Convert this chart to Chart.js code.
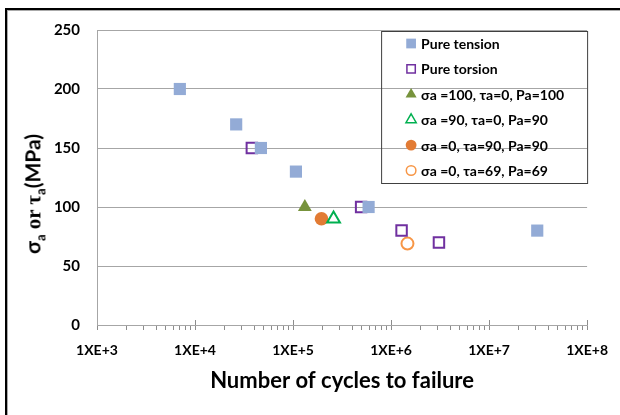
<!DOCTYPE html>
<html>
<head>
<meta charset="utf-8">
<script src="https://cdn.jsdelivr.net/npm/chart.js@4.4.0/dist/chart.umd.min.js"></script>
<style>
body { margin: 0; background: #fff; }
#wrap { position: relative; width: 620px; height: 415px; overflow: hidden; }
#frame { position: absolute; left: 5px; top: 8px; width: 640px; height: 440px; border-top: 2px solid #000; border-left: 2px solid #000; box-shadow: inset 1px 1px 0 #aaa; }
#chart { position: absolute; left: 0; top: 0; }
#ytitle { position: absolute; left: 34px; top: 194px; transform: translate(-50%, -50%) rotate(-90deg); white-space: nowrap; font: bold 21px Lato, "Open Sans", sans-serif; color: #000; }
#ytitle .serif { font-family: "Liberation Serif", serif; font-weight: bold; }
#ytitle sub { font-size: 13px; }
</style>
</head>
<body>
<div id="wrap">
  <div id="frame"></div>
  <canvas id="chart" width="620" height="415"></canvas>
  <div id="ytitle">σ<sub>a</sub> <span class="serif">or τ</span><sub>a</sub>(MPa)</div>
</div>
<script>
// pure tension
const tensionCycles = [7000, 26300, 47000, 107000, 590000, 31000000];
const tensionStress = [200, 170, 150, 130, 100, 80];
// pure torsion
const torsionCycles = [38000, 495000, 1280000, 3080000];
const torsionStress = [150, 100, 80, 70];
// combined loading
const comb1Cycles = [132000];
const comb1Stress = [100];
const comb2Cycles = [259000];
const comb2Stress = [90];
const comb3Cycles = [195000];
const comb3Stress = [90];
const comb4Cycles = [1470000];
const comb4Stress = [69];

const xTickLabels = ['1XE+3', '1XE+4', '1XE+5', '1XE+6', '1XE+7', '1XE+8'];
const yTicks = [0, 50, 100, 150, 200, 250];

const legendLabels = ['Pure tension', 'Pure torsion', 'σa =100, τa=0, Pa=100', 'σa =90, τa=0, Pa=90', 'σa =0, τa=90, Pa=90', 'σa =0, τa=69, Pa=69'];

const toPoints = (xs, ys) => xs.map((x, i) => ({x: x, y: ys[i]}));

// minor ticks 1..9 in every decade
const xTickValues = [];
for (let e = 3; e < 8; e++) {
    for (let m = 1; m < 10; m++) xTickValues.push(m * Math.pow(10, e));
}
xTickValues.push(1e8);

const isDecade = v => {
    const e = Math.round(Math.log10(v));
    return Math.abs(v - Math.pow(10, e)) < 1e-6;
};

const font = 'Lato, "Open Sans", sans-serif';

// legend box drawn inside the plot, top right; decade ticks also poke up into the plot
const boxLegend = {
    id: 'boxLegend',
    afterDraw(chart) {
        const ctx = chart.ctx;
        const area = chart.chartArea;
        const xs = chart.scales.x;
        ctx.save();
        ctx.strokeStyle = '#8C8C8C';
        ctx.lineWidth = 1;
        xs.ticks.forEach(t => {
            if (!isDecade(t.value) || t.value === 1e3) return;
            const px = Math.round(xs.getPixelForValue(t.value)) + 0.5;
            ctx.beginPath();
            ctx.moveTo(px, area.bottom - 5);
            ctx.lineTo(px, area.bottom);
            ctx.stroke();
        });

        const w = 206, h = 152;
        const x0 = area.right - w, y0 = area.top + 1;
        ctx.strokeStyle = '#404040';
        ctx.strokeRect(x0 + 0.5, y0 + 0.5, w, h);
        ctx.font = 'bold 14px ' + font;
        ctx.textBaseline = 'middle';
        chart.data.datasets.forEach((ds, i) => {
            const y = y0 + 12.5 + i * 25.4;
            const mx = x0 + 30;
            ctx.fillStyle = ds.backgroundColor;
            ctx.strokeStyle = ds.borderColor;
            ctx.lineWidth = ds.borderWidth ? 1.5 : 0;
            Chart.helpers.drawPoint(ctx, {
                pointStyle: ds.pointStyle,
                radius: ds.pointRadius * 0.8,
                rotation: 0,
                borderWidth: ds.borderWidth ? 1.5 : 0
            }, mx, y);
            ctx.fillStyle = '#000';
            ctx.fillText(legendLabels[i], x0 + 40, y + 1);
        });
        ctx.restore();
    }
};

new Chart(document.getElementById('chart'), {
    type: 'scatter',
    data: {
        datasets: [{
            label: legendLabels[0],
            data: toPoints(tensionCycles, tensionStress),
            pointStyle: 'rect',
            pointRadius: 8.6,
            backgroundColor: '#93ABD6',
            borderColor: '#93ABD6',
            borderWidth: 0
        }, {
            label: legendLabels[1],
            data: toPoints(torsionCycles, torsionStress),
            pointStyle: 'rect',
            pointRadius: 7.4,
            backgroundColor: 'rgba(255,255,255,0)',
            borderColor: '#7030A0',
            borderWidth: 2
        }, {
            label: legendLabels[2],
            data: toPoints(comb1Cycles, comb1Stress),
            pointStyle: 'triangle',
            pointRadius: 8,
            backgroundColor: '#77933C',
            borderColor: '#77933C',
            borderWidth: 0
        }, {
            label: legendLabels[3],
            data: toPoints(comb2Cycles, comb2Stress),
            pointStyle: 'triangle',
            pointRadius: 7.4,
            backgroundColor: 'rgba(255,255,255,0)',
            borderColor: '#00B050',
            borderWidth: 2
        }, {
            label: legendLabels[4],
            data: toPoints(comb3Cycles, comb3Stress),
            pointStyle: 'circle',
            pointRadius: 6.8,
            backgroundColor: '#E27B34',
            borderColor: '#E27B34',
            borderWidth: 0
        }, {
            label: legendLabels[5],
            data: toPoints(comb4Cycles, comb4Stress),
            pointStyle: 'circle',
            pointRadius: 6,
            backgroundColor: 'rgba(255,255,255,0)',
            borderColor: '#F79646',
            borderWidth: 2
        }]
    },
    options: {
        responsive: false,
        animation: false,
        layout: {
            padding: {left: 0, right: 31, top: 30, bottom: 0}
        },
        plugins: {
            legend: {display: false},
            tooltip: {enabled: false}
        },
        scales: {
            x: {
                type: 'logarithmic',
                min: 1e3,
                max: 1e8,
                afterBuildTicks: axis => {
                    axis.ticks = xTickValues.map(v => ({value: v}));
                },
                afterFit: axis => {
                    axis.height = 90;
                },
                ticks: {
                    autoSkip: false,
                    maxRotation: 0,
                    padding: 12,
                    color: '#000',
                    font: {family: font, weight: 'bold', size: 14},
                    callback: value => isDecade(value) ? xTickLabels[Math.round(Math.log10(value)) - 3] : ''
                },
                grid: {
                    drawOnChartArea: false,
                    tickLength: 5,
                    tickWidth: 1,
                    tickColor: '#8C8C8C',
                    color: '#A6A6A6'
                },
                border: {color: '#A6A6A6'},
                title: {
                    display: true,
                    text: 'Number of cycles to failure',
                    color: '#000',
                    font: {family: font, weight: 'bold', size: 22},
                    padding: {top: 0, bottom: 21}
                }
            },
            y: {
                min: 0,
                max: 250,
                afterBuildTicks: axis => {
                    axis.ticks = yTicks.map(v => ({value: v}));
                },
                afterFit: axis => {
                    axis.width = 97;
                },
                ticks: {
                    padding: 17,
                    color: '#000',
                    font: {family: font, weight: 'bold', size: 15}
                },
                grid: {
                    drawTicks: false,
                    color: '#A6A6A6'
                },
                border: {color: '#A6A6A6'}
            }
        }
    },
    plugins: [boxLegend]
});
</script>
</body>
</html>
